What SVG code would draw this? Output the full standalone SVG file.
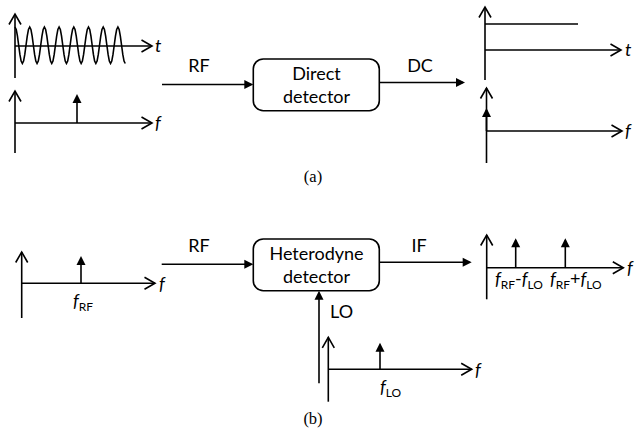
<svg xmlns="http://www.w3.org/2000/svg" width="637" height="435" viewBox="0 0 637 435">
<style>
.ln{fill:none;stroke:#000;stroke-width:1.6}
.ax{fill:none;stroke:#000;stroke-width:1.6;marker-end:url(#open)}
.ar{fill:none;stroke:#000;stroke-width:1.6;marker-end:url(#solid)}
.box{fill:#fff;stroke:#000;stroke-width:1.6}
text{font-family:Lato,"Open Sans","Liberation Sans",sans-serif;font-size:18px;fill:#000}
.c{text-anchor:middle}
.it{font-style:italic}
.sub{font-size:12px;font-style:normal}
.cap{font-family:"Liberation Serif","Times New Roman",serif;font-size:16.5px}
</style>
<defs>
<marker id="open" markerUnits="userSpaceOnUse" viewBox="-13 -8 16 16" markerWidth="16" markerHeight="16" refX="0" refY="0" orient="auto" overflow="visible">
<path d="M-10.5,-6 L0,0 L-10.5,6" fill="none" stroke="#000" stroke-width="1.6"/>
</marker>
<marker id="solid" markerUnits="userSpaceOnUse" viewBox="-12 -6 14 12" markerWidth="14" markerHeight="12" refX="-2" refY="0" orient="auto" overflow="visible">
<path d="M-9,-4.5 L0,0 L-9,4.5 Z" fill="#000"/>
</marker>
</defs>

<g id="rf-time-a">
<line class="ax" x1="15" y1="78" x2="15" y2="14"/>
<line class="ax" x1="15" y1="46" x2="152" y2="46"/>
<polyline class="ln" vector-effect="non-scaling-stroke" transform="translate(15,0) scale(1.225,1)" points="0,27 1,29.4 2,36.1 3,45.25 4,54.4 5,61.1 6,63.5 7,61.1 8,54.4 9,45.25 10,36.1 11,29.4 12,27 13,29.4 14,36.1 15,45.25 16,54.4 17,61.1 18,63.5 19,61.1 20,54.4 21,45.25 22,36.1 23,29.4 24,27 25,29.4 26,36.1 27,45.25 28,54.4 29,61.1 30,63.5 31,61.1 32,54.4 33,45.25 34,36.1 35,29.4 36,27 37,29.4 38,36.1 39,45.25 40,54.4 41,61.1 42,63.5 43,61.1 44,54.4 45,45.25 46,36.1 47,29.4 48,27 49,29.4 50,36.1 51,45.25 52,54.4 53,61.1 54,63.5 55,61.1 56,54.4 57,45.25 58,36.1 59,29.4 60,27 61,29.4 62,36.1 63,45.25 64,54.4 65,61.1 66,63.5 67,61.1 68,54.4 69,45.25 70,36.1 71,29.4 72,27 73,29.4 74,36.1 75,45.25 76,54.4 77,61.1 78,63.5 79,61.1 80,54.4 81,45.25 82,36.1 83,29.4 84,27 85,29.4 86,36.1 87,45.25 88,54.4 89,61.1 90,63.5"/>
<text class="it" x="155" y="52">t</text>
</g>

<g id="rf-spectrum-a">
<line class="ax" x1="15" y1="153" x2="15" y2="91"/>
<line class="ax" x1="15" y1="123" x2="152" y2="123"/>
<line class="ar" x1="77" y1="123" x2="77" y2="96"/>
<text class="it" x="155" y="129">f</text>
</g>

<g id="direct-detector">
<rect class="box" x="253.3" y="59" width="126" height="51.7" rx="10"/>
<text class="c" x="316.5" y="80">Direct</text>
<text class="c" x="316.5" y="103">detector</text>
</g>

<g id="dc-time">
<line class="ax" x1="485" y1="80" x2="485" y2="7"/>
<line class="ln" x1="485" y1="24" x2="578" y2="24"/>
<line class="ax" x1="485" y1="50" x2="621" y2="50"/>
<text class="it" x="625" y="56">t</text>
</g>

<g id="dc-spectrum">
<line class="ax" x1="486.5" y1="163" x2="486.5" y2="88"/>
<line class="ar" x1="486.5" y1="131" x2="486.5" y2="110"/>
<line class="ax" x1="486.5" y1="131" x2="622" y2="131"/>
<text class="it" x="625" y="137">f</text>
</g>

<text class="cap c" x="313" y="181.5">(a)</text>

<g id="rf-spectrum-b">
<line class="ax" x1="21.7" y1="318" x2="21.7" y2="252"/>
<line class="ax" x1="21.7" y1="283.3" x2="155" y2="283.3"/>
<line class="ar" x1="81" y1="283.3" x2="81" y2="258"/>
<text class="it" x="159" y="290">f</text>
<text x="73" y="307"><tspan class="it">f</tspan><tspan class="sub" dy="3.5">RF</tspan></text>
</g>

<g id="heterodyne-detector">
<rect class="box" x="253.3" y="239" width="126" height="51.7" rx="10"/>
<text class="c" x="316.5" y="260">Heterodyne</text>
<text class="c" x="316.5" y="283">detector</text>
</g>

<g id="lo-spectrum">
<line class="ax" x1="328.3" y1="401.7" x2="328.3" y2="337.3"/>
<line class="ax" x1="328.3" y1="369.3" x2="471.7" y2="369.3"/>
<line class="ar" x1="380" y1="369.3" x2="380" y2="344.7"/>
<text class="it" x="475" y="376">f</text>
<text x="380" y="393"><tspan class="it">f</tspan><tspan class="sub" dy="3.5">LO</tspan></text>
</g>

<g id="if-spectrum">
<line class="ax" x1="486.7" y1="299.3" x2="486.7" y2="235"/>
<line class="ax" x1="486.7" y1="267.7" x2="623.3" y2="267.7"/>
<line class="ar" x1="515.7" y1="267.7" x2="515.7" y2="240.3"/>
<line class="ar" x1="565.3" y1="267.7" x2="565.3" y2="240.3"/>
<text class="it" x="627" y="274">f</text>
<text x="495" y="285"><tspan class="it">f</tspan><tspan class="sub" dy="3.5">RF</tspan><tspan dy="-3.5">-</tspan><tspan class="it">f</tspan><tspan class="sub" dy="3.5">LO</tspan></text>
<text x="550" y="285"><tspan class="it">f</tspan><tspan class="sub" dy="3.5">RF</tspan><tspan dy="-3.5">+</tspan><tspan class="it">f</tspan><tspan class="sub" dy="3.5">LO</tspan></text>
</g>

<text class="cap c" x="313" y="424">(b)</text>

<g id="connectors">
<line class="ar" x1="162" y1="84.5" x2="251.3" y2="84.5"/>
<text class="c" x="199" y="72">RF</text>
<line class="ar" x1="379.3" y1="82.5" x2="463" y2="82.5"/>
<text class="c" x="420" y="72">DC</text>
<line class="ar" x1="161.7" y1="264.3" x2="251.3" y2="264.3"/>
<text class="c" x="199" y="252">RF</text>
<line class="ar" x1="379.3" y1="262.3" x2="469.7" y2="262.3"/>
<text class="c" x="419" y="252">IF</text>
<line class="ar" x1="319" y1="383.3" x2="319" y2="292.7"/>
<text x="330" y="318">LO</text>
</g>
</svg>
